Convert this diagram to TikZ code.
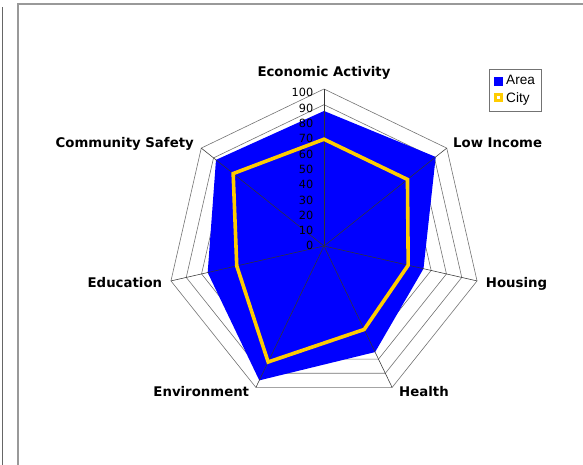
\documentclass[tikz,border=0pt]{standalone}
\usepackage{fontspec}
\setmainfont{DejaVu Sans}
\newfontfamily\legfont{Liberation Sans}
\usetikzlibrary{positioning}

\definecolor{areablue}{RGB}{0,0,255}
\definecolor{citygold}{RGB}{255,204,0}

\begin{document}
\begin{tikzpicture}[x=1pt,y=1pt]
        \tikzset{cat/.style={font=\bfseries\fontsize{13.3}{15}\selectfont, inner sep=0pt},
                 tick/.style={font=\fontsize{11.3}{13}\selectfont, inner sep=0pt, anchor=base east},
                 ring/.style={draw=black!55, line width=0.6pt},
                 spoke/.style={draw=black!80, line width=0.55pt},
                 cityline/.style={draw=citygold, line width=3.6pt, line join=miter},
                 leg/.style={font=\legfont\fontsize{13.6}{15}\selectfont, inner sep=0pt, anchor=base west}}
        \def\unit{1.57}

        \useasboundingbox (0,0) rectangle (583,465);
        \draw[black!60, line width=0.8pt] (2.5,0) -- (2.5,458);
        \draw[black!40, line width=1.3pt] (18,0) -- (18,461) -- (583,461);

        \begin{scope}[shift={(324,219)}]
          \coordinate (o) at (0,0);
          \foreach \a/\c [count=\k from 0] in {86/68, 88/74, 76/57, 95/82, 75/59, 65/55, 91/68}{
            \coordinate (a\k) at ({90+\k*360/7}:{\unit*\a});
            \coordinate (c\k) at ({90+\k*360/7}:{\unit*\c});
            \coordinate (v\k) at ({90+\k*360/7}:{\unit*100});
          }

          \foreach \v in {10,20,...,100}
            \draw[ring] (90:{\unit*\v}) \foreach \k in {1,...,6}{ -- ({90+\k*360/7}:{\unit*\v})} -- cycle;

          \fill[areablue] (a0) -- (a1) -- (a2) -- (a3) -- (a4) -- (a5) -- (a6) -- cycle;

          \foreach \k in {0,...,6}
            \draw[spoke] (o) -- (v\k);

          \draw[cityline] (c0) -- (c1) -- (c2) -- (c3) -- (c4) -- (c5) -- (c6) -- cycle;

          \foreach \v in {0,10,...,100}
            \node[tick] (t\v) at (-10.5,{1.533*\v-4}) {\v};
        \end{scope}

        \node[cat, anchor=base] (econ) at (324,388.3) {Economic Activity};
        \node[cat, anchor=base west] (lowinc) at (453,317.3) {Low Income};
        \node[cat, anchor=base east] (safety) at (194,317.3) {Community Safety};
        \node[cat, anchor=base east] (edu) at (162.3,177.7) {Education};
        \node[cat, anchor=base west] (housing) at (485.7,177.7) {Housing};
        \node[cat, anchor=base east] (env) at (249.3,68.3) {Environment};
        \node[cat, anchor=base west] (health) at (399,68.3) {Health};

        \draw[black!55, line width=0.6pt] (489,354) rectangle (541.7,395.7);
        \fill[areablue] (494.3,379.3) rectangle (503.3,388.3);
        \fill[citygold] (494.3,362.7) rectangle (503.3,371.7);
        \fill[white] (497.3,365.7) rectangle (500.3,368.7);
        \node[leg] (areatxt) at (506,380) {Area};
        \node[leg] (citytxt) at (506,362.3) {City};
\end{tikzpicture}
\end{document}
